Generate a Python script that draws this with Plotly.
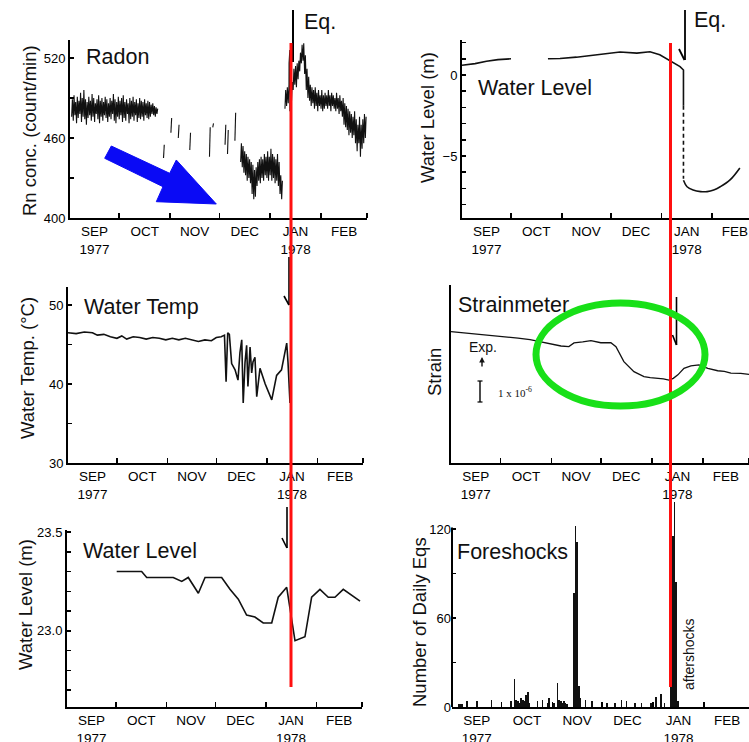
import plotly.graph_objects as go

W, H = 749, 742

# ---- time axis: days counted from 1 Sep 1977 ----
month_start_days = [30, 61, 91, 122, 153, 181]
month_mid_days = [15, 45.5, 76, 106.5, 137.5, 167]
month_labels = ["SEP<br>1977", "OCT", "NOV", "DEC", "JAN<br>1978", "FEB"]

# ---- Radon (count/min): daily low / high ----
radon_days = [*range(1, 54), 57, 61.5, 66, 73, 85, 87, 94.5, 96, 100.5,
              *range(104, 130), 131, 132, 133, 133.5, 134, *range(135, 181)]
radon_lo = [476, 473, 477, 471, 475, 478, 472, 476, 474, 470, 475, 477, 473, 476, 472, 478, 474, 471, 476, 473,
            477, 475, 472, 476, 474, 478, 473, 471, 476, 474, 477, 472, 475, 473, 478, 471, 474, 476, 473, 477,
            472, 475, 474, 476, 473, 477, 475, 474, 476, 478, 477, 476, 478,
            445, 464, 460, 451, 446, 468, 455, 448, 458,
            442, 438, 434, 432, 428, 430, 426, 418, 414, 416, 424, 428, 426, 430, 428, 432, 430, 428, 432, 428,
            430, 426, 428, 424, 418, 414,
            482, 484, 486, 516, 480, 488, 496, 500, 498, 504, 510, 516, 518, 508, 496, 490, 488, 484, 486, 482,
            484, 480, 484, 482, 480, 482, 484, 482, 484, 480, 484, 482, 480, 482, 478, 480, 476, 470, 468, 466,
            462, 464, 460, 462, 456, 450, 456, 446, 452, 456, 460]
radon_hi = [489, 492, 487, 491, 488, 494, 490, 496, 489, 487, 491, 488, 493, 490, 486, 489, 492, 488, 490, 487,
            491, 489, 486, 490, 488, 493, 489, 487, 491, 488, 490, 492, 487, 489, 486, 490, 488, 491, 487, 489,
            486, 490, 488, 487, 489, 486, 488, 487, 485, 486, 484, 483, 482,
            455, 475, 470, 464, 468, 471, 470, 466, 479,
            456, 454, 450, 448, 446, 444, 442, 440, 436, 438, 442, 444, 446, 444, 448, 446, 450, 446, 452, 448,
            446, 444, 448, 442, 432, 428,
            496, 498, 500, 526, 494, 502, 512, 514, 516, 518, 524, 530, 531, 522, 512, 506, 500, 498, 496, 498,
            494, 496, 492, 496, 492, 494, 492, 496, 492, 494, 492, 490, 494, 490, 492, 488, 490, 486, 484, 482,
            480, 478, 476, 480, 474, 470, 476, 470, 474, 478, 476]

# ---- Water level, top right (m) ----
wl1_days = [0, 8, 15, 22, 30, None, 52.6, 60, 70, 84.5, 96.7, 107, 115, 121, 127, 133.4, 135.5, 135.5]
wl1_vals = [0.6, 0.7, 0.85, 0.95, 1.0, None, 1.0, 1.02, 1.1, 1.28, 1.42, 1.35, 1.43, 1.25, 0.88, 0.52, 0.31, -1.9]
wl1_gap_days = [135.5, 135.5]
wl1_gap_vals = [-1.9, -6.4]
wl1_after_days = [135.5, 137.7, 141.4, 146, 150, 154, 158, 164, 170]
wl1_after_vals = [-6.5, -6.9, -7.1, -7.2, -7.2, -7.1, -6.9, -6.48, -5.74]

# ---- Water temperature (deg C) ----
temp_days = [0, 5, 10, 15, 18, 22, 26, 30, 33, 36, 40, 44, 48, 52, 56, 60, 64, 68, 72, 76,
             80, 84, 88, 91, 94, 96, 97, 98, 99, 100.4, 102.5, 104.3, 105.5, 106.6, 107.5, 108.6, 109.6, 110.4,
             111.7, 112.7, 113.5, 114.7, 115.8, 117.8, 121, 125, 128, 131, 134.2, 135, 136.2]
temp_vals = [46.5, 46.4, 46.6, 46.5, 46.2, 46.3, 46.0, 45.8, 46.1, 45.7, 46.0, 45.9, 45.7, 45.9, 45.8, 45.6,
             45.8, 45.6, 45.8, 45.6, 45.4, 45.6, 45.5, 45.9, 46.0, 46.2, 40.3, 46.5, 46.3, 42.6, 41.8, 40.5,
             44.0, 45.6, 37.6, 42.7, 44.9, 39.7, 44.7, 41.4, 42.8, 43.4, 38.4, 42.0, 40.0, 38.0, 41.1, 41.8,
             45.2, 42.7, 37.6]

# ---- Strainmeter (units of 1e-6, arbitrary origin) ----
strain_days = [0, 10, 20, 30, 40.7, 48, 54.6, 60, 66.8, 71.6, 74.7, 80, 85, 91, 97.1, 100.2, 105, 111.1,
               117.2, 121, 125.7, 129, 132.4, 135, 137.8, 141.5, 145.7, 150.6, 156, 162, 166, 170, 176, 181]
strain_vals = [6.05, 5.98, 5.9, 5.85, 5.75, 5.68, 5.59, 5.5, 5.39, 5.36, 5.53, 5.58, 5.64, 5.54, 5.54, 5.36,
               4.67, 4.21, 3.98, 3.93, 3.90, 3.88, 3.82, 3.9, 4.06, 4.36, 4.47, 4.52, 4.36, 4.25, 4.22, 4.14,
               4.13, 4.08]

# ---- Water level, bottom left (m) ----
wl2_days = [30.5, 45.8, 48.9, 65.2, 70.4, 74.4, 80.6, 84.7, 94.9, 100, 105.1, 110.2, 115.3, 120.4, 125.6,
            129.6, 134.8, 139.9, 146, 150.1, 155.2, 160.3, 164.4, 169.5, 179.8]
wl2_vals = [23.30, 23.30, 23.27, 23.27, 23.25, 23.27, 23.19, 23.27, 23.27, 23.21, 23.16, 23.08, 23.07, 23.04,
            23.04, 23.17, 23.22, 22.95, 22.97, 23.17, 23.21, 23.17, 23.17, 23.21, 23.15]

# ---- Foreshocks: number of daily earthquakes ----
fs_days = [4, 5, 6, 9, 15, 24, 36, 38, 39, 40, 41, 42, 43, 44, 45, 46, 47, 52, 55, 58, 59, 62, 64, 65, 66,
           67, 68, 69, 70, 74, 75, 76, 77, 78, 81, 85, 94, 99, 103, 106, 111, 115, 121, 124, 127, 129, 133,
           134, 135, 136, 137]
fs_counts = [2, 2, 2, 4, 4, 5, 4, 19, 5, 4, 3, 6, 5, 4, 8, 10, 3, 4, 5, 3, 6, 3, 16, 5, 4, 3, 4, 3, 2, 77,
             122, 111, 14, 6, 5, 4, 3, 3, 5, 4, 3, 3, 3, 7, 9, 3, 14, 115, 138, 84, 4]

FONT = "Liberation Sans, Arial, sans-serif"
INK = "#111111"


def px(x):
    return x / W


def py(y):
    return 1 - y / H


# radon band drawn as a saw-tooth between daily lows and highs
rx, ry = [], []
prev = None
for d, lo, hi in zip(radon_days, radon_lo, radon_hi):
    if prev is not None and d - prev > 1.01:
        rx.append(None)
        ry.append(None)
    rx += [d, d + 0.45]
    ry += [lo, hi]
    prev = d

fig = go.Figure()
line = dict(color=INK, width=1.6)
fig.add_trace(go.Scatter(x=rx, y=ry, mode="lines", line=dict(color=INK, width=1.1), xaxis="x", yaxis="y"))
fig.add_trace(go.Scatter(x=wl1_days, y=wl1_vals, mode="lines", line=line, xaxis="x2", yaxis="y2"))
fig.add_trace(go.Scatter(x=wl1_gap_days, y=wl1_gap_vals, mode="lines",
                         line=dict(color=INK, width=1.6, dash="4px,3px"), xaxis="x2", yaxis="y2"))
fig.add_trace(go.Scatter(x=wl1_after_days, y=wl1_after_vals, mode="lines", line=dict(color=INK, width=1.6, shape="spline"),
                         xaxis="x2", yaxis="y2"))
fig.add_trace(go.Scatter(x=temp_days, y=temp_vals, mode="lines", line=line, xaxis="x3", yaxis="y3"))
fig.add_trace(go.Scatter(x=strain_days, y=strain_vals, mode="lines", line=dict(color=INK, width=1.3),
                         xaxis="x4", yaxis="y4"))
fig.add_trace(go.Scatter(x=wl2_days, y=wl2_vals, mode="lines", line=line, xaxis="x5", yaxis="y5"))
fig.add_trace(go.Bar(x=fs_days, y=fs_counts, width=1.0, marker=dict(color=INK, line=dict(width=0)),
                     xaxis="x6", yaxis="y6"))


def xcfg(x0, x1, rng, anchor):
    return dict(domain=[px(x0), px(x1)], range=rng, anchor=anchor, showline=True, linecolor="black",
                linewidth=2, showgrid=False, zeroline=False, automargin=False, tickmode="array",
                tickvals=month_mid_days, ticktext=month_labels, ticks="", ticklen=0,
                tickfont=dict(family=FONT, size=13.5, color="black"),
                minor=dict(tickmode="array", tickvals=month_start_days, ticks="inside", ticklen=5,
                           tickwidth=1.6, tickcolor="black", showgrid=False))


def ycfg(top, bot, rng, anchor, vals=None, text=None, minor_vals=None, showline=True):
    d = dict(domain=[py(bot), py(top)], range=rng, anchor=anchor, showline=showline, linecolor="black",
             linewidth=2, showgrid=False, zeroline=False, automargin=False,
             tickfont=dict(family=FONT, size=13, color="black"))
    if vals is None:
        d.update(showticklabels=False, ticks="")
    else:
        d.update(tickmode="array", tickvals=vals, ticks="inside", ticklen=4, tickwidth=1.5,
                 tickcolor="black")
        if text is not None:
            d["ticktext"] = text
        d["minor"] = dict(tickmode="array", tickvals=minor_vals, ticks="inside", ticklen=4, tickwidth=1.5,
                          tickcolor="black", showgrid=False)
    return d


fig.update_layout(
    width=W, height=H, margin=dict(l=0, r=0, t=0, b=0, autoexpand=False), showlegend=False,
    paper_bgcolor="white", plot_bgcolor="white", bargap=0,
    font=dict(family=FONT, color="black"),
    xaxis=xcfg(70, 367, [0, 181], "y"),
    yaxis=ycfg(40, 218, [400, 533.5], "x", [400, 460, 520], None, [430, 490]),
    xaxis2=xcfg(462, 749, [0, 175.6], "y2"),
    yaxis2=ycfg(40, 218, [-8.83, 2.16], "x2", [-5, 0], ["\u22125", "0"], [-8, -7, -6, -4, -3, -2, -1, 1, 2]),
    xaxis3=xcfg(68, 363, [0, 181], "y3"),
    yaxis3=ycfg(287, 463, [30, 52.3], "x3", [30, 40, 50], None, [35, 45]),
    xaxis4=xcfg(451, 749, [0, 181], "y4"),
    yaxis4=ycfg(285, 463, [0, 8.2], "x4"),
    xaxis5=xcfg(67, 362, [0, 181], "y5"),
    yaxis5=ycfg(530, 707, [22.615, 23.51], "x5", [23.0, 23.5], ["23.0", "23.5"],
                [22.7, 22.8, 22.9, 23.1, 23.2, 23.3, 23.4]),
    xaxis6=xcfg(452, 749, [0, 180.3], "y6"),
    yaxis6=ycfg(499.4, 707, [0, 140], "x6", [0, 60, 120], None, [30, 90], showline=False),
)

shapes = []
# y-axis line of the foreshock panel stops at 120
shapes.append(dict(type="line", xref="x6 domain", yref="y6", x0=0, x1=0, y0=0, y1=121,
                   line=dict(color="black", width=2)))


def seg(x0, y0, x1, y1, color="black", width=1.6):
    shapes.append(dict(type="line", xref="paper", yref="paper", x0=px(x0), y0=py(y0), x1=px(x1), y1=py(y1),
                       line=dict(color=color, width=width)))


# earthquake markers
seg(293, 10, 293, 62, width=2)
seg(685, 10, 685, 60, width=1.8)
seg(679, 49, 684.5, 60, width=1.8)
seg(289, 257, 289, 305, width=1.6)
seg(284, 296, 289, 305, width=1.6)
seg(676.5, 297, 676.5, 345, width=1.6)
seg(672.5, 335, 676.5, 345, width=1.6)
seg(287, 507, 287, 548, width=1.6)
seg(282, 538, 287, 548, width=1.6)

# strain scale bar
seg(480, 381, 480, 402, width=1.4)
seg(477.5, 381, 482.5, 381, width=1.2)
seg(477.5, 402, 482.5, 402, width=1.2)

# overlaid highlight marks
seg(291, 43, 291, 687, color="#ff1010", width=3)
seg(670.5, 43, 670.5, 687, color="#ff1010", width=3)

arrow_pts = [(111.3, 146), (169.7, 173.3), (176.3, 160), (216.3, 204), (156.3, 201.7), (163, 186.7),
             (104.7, 158.3)]
path = "M " + " L ".join(f"{px(a):.5f},{py(b):.5f}" for a, b in arrow_pts) + " Z"
shapes.append(dict(type="path", xref="paper", yref="paper", path=path, fillcolor="#0a0af5",
                   line=dict(color="#0a0af5", width=1)))
shapes.append(dict(type="circle", xref="paper", yref="paper", x0=px(536), x1=px(705), y0=py(406), y1=py(303),
                   line=dict(color="#18e018", width=7)))

annotations = []


def text(t, x, y, size, xanchor="left", angle=0, family=FONT):
    annotations.append(dict(text=t, x=px(x), y=py(y), xref="paper", yref="paper", showarrow=False,
                            xanchor=xanchor, yanchor="middle", textangle=angle,
                            font=dict(family=family, size=size, color=INK)))


text("Radon", 84, 57, 21.5)
text("Water Level", 476, 88, 21.5)
text("Water Temp", 82, 307, 21.5)
text("Strainmeter", 456, 305, 21.5)
text("Water Level", 81, 551, 21.5)
text("Foreshocks", 455, 552, 21.5)
text("Eq.", 302, 22, 21.5)
text("Eq.", 692, 20, 21.5)

text("Rn conc. (count/min)", 29, 131, 18.5, "center", -90)
text("Water Level (m)", 427, 117, 18.5, "center", -90)
text("Water Temp. (\u00b0C)", 27, 368, 18.5, "center", -90)
text("Strain", 434, 372, 18.5, "center", -90)
text("Water Level (m)", 25, 605, 18.5, "center", -90)
text("Number of Daily Eqs", 419, 622, 18.5, "center", -90)
text("aftershocks", 689, 654, 14, "center", -90)

text("Exp.", 483, 347, 14, "center")
text("1 x 10<sup>-6</sup>", 496, 392, 11, "left", 0, "Liberation Serif, Times New Roman, serif")
annotations.append(dict(x=px(482), y=py(357), xref="paper", yref="paper", ax=0, ay=11, text="",
                        showarrow=True, arrowhead=2, arrowsize=0.8, arrowwidth=1.4, arrowcolor=INK))

fig.update_layout(shapes=shapes, annotations=annotations)
fig.write_html("out.html", config={"displayModeBar": False, "staticPlot": True},
               post_script="document.body.style.margin='0';document.body.style.padding='0';"
                           "document.body.style.overflow='hidden';")
